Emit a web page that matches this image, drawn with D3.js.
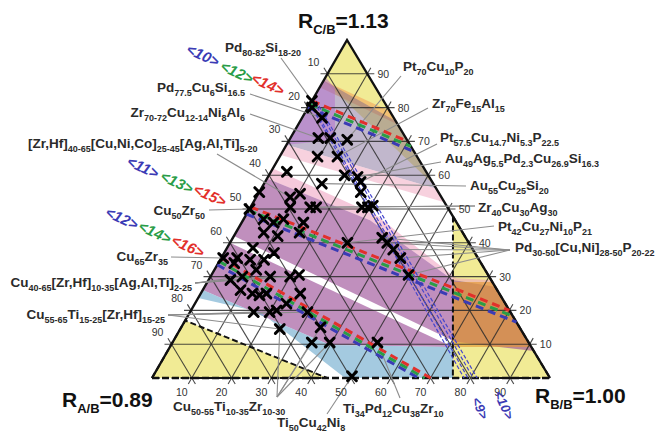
<!DOCTYPE html>
<html>
<head>
<meta charset="utf-8">
<script src="https://cdn.jsdelivr.net/npm/d3@7"></script>
<style>
  body { margin: 0; background: #fff; }
  svg { display: block; font-family: "Liberation Sans", Arial, sans-serif; }
</style>
</head>
<body>
<svg id="chart" width="656" height="432"></svg>
<script>
// compositions are [A, B, C] in percent (A bottom-left, B bottom-right, C top)
const TICKS = [10, 20, 30, 40, 50, 60, 70, 80, 90];

const points = [
  [18, 0, 82], [19, 1, 80], [18, 5, 77], [22, 7, 71], [19, 10, 71], [15, 14.5, 70.5],
  [25, 9.5, 65.5], [20, 14.5, 65.5], [35, 4, 61], [21, 19, 60], [28, 14.5, 57.5],
  [18, 24, 58], [19.5, 25.5, 55], [21.5, 28, 50.5], [20, 29.5, 50.5], [21, 37.5, 41.5],
  [20.5, 39.5, 40], [20, 42, 38], [19.5, 45, 35.5], [20, 49.5, 30.5], [30.5, 29.5, 40],
  [45, 0, 55], [38, 8.5, 53.5], [35, 10.5, 54.5], [39.5, 10, 50.5], [34.5, 15, 50.5],
  [33, 16.5, 50.5], [48, 5, 47], [46, 8, 46], [43, 10, 47], [38.5, 15.5, 46], [50, 7, 43],
  [47, 11, 42], [41, 16, 43], [55, 6.5, 38.5], [50.5, 12.5, 37], [57.5, 7.5, 35],
  [54, 11, 35], [60.5, 4, 35.5], [62, 8, 30], [57.5, 10.5, 32], [64, 0.5, 35.5],
  [55, 15, 30], [50, 20, 30], [62, 4, 34], [65.5, 5.5, 29], [47.5, 22, 30.5],
  [64.5, 9.5, 26], [60.5, 15, 24.5], [55, 23, 22], [50, 25, 25], [64.5, 16, 19.5],
  [60.5, 20, 19.5], [51, 29.5, 19.5], [60.5, 25, 14.5], [50, 35, 15], [54.5, 35, 10.5],
  [50, 39.5, 10.5], [38, 51.5, 10.5], [49.5, 50, 0.5], [62, 13, 25], [58.5, 16.5, 25],
  [58.5, 21.5, 20], [18, 22.5, 59.5], [18.5, 30.5, 51], [50, 0, 50]
];

// shaded regions
const yellowTop = [[0, 0, 100], [12, 0, 88], [0, 43, 57]];
const yellowLeft = [[100, 0, 0], [83, 0, 17], [56, 44, 0]];
const yellowRight = [[0, 52.2, 47.8], [24.4, 75.6, 0], [0, 100, 0]];
const orangeStreak = [[12, 0, 88], [0, 21, 79], [0, 25, 75], [14, 0, 86]];
const upperBand = [[12, 0, 88], [0, 24, 76], [0, 44, 56], [31, 0, 69]];
const violetLeft = [[11, 0, 89], [10.3, 3.9, 85.8], [18.1, 11.5, 70.4], [31, 0, 69]];
const pinkUpper = [[31, 0, 69], [0, 44, 56], [0, 48, 52], [34, 0, 66]];
const pinkMid = [[38, 0, 62], [19, 33, 48], [8.5, 62, 29.5], [0, 71, 29], [0, 73, 27], [9.6, 61.4, 29], [21.4, 31.9, 46.7], [41, 0, 59]];
const midBand = [[41, 0, 59], [21.4, 31.9, 46.7], [9.6, 61.4, 29], [0, 73, 27], [0, 92, 8], [18.4, 70.9, 10.7], [58, 0, 42]];
const lowerBand = [[60, 0, 40], [19.7, 71.1, 9.2], [50.3, 39.9, 9.8], [74, 0, 26]];
const blueBand = [[74, 0, 26], [50.3, 39.9, 9.8], [19.7, 71.1, 9.2], [24.4, 75.6, 0], [51.5, 48.5, 0], [62.9, 17.6, 19.5], [76.3, 0, 23.7]];
const orangeRight = [[9.9, 61.7, 28.4], [0, 71.6, 28.4], [0, 90.8, 9.2], [19.7, 71.1, 9.2]];

// <n> guide lines
const ridgeBlue = [[[20, 0, 80], [0, 33, 67]], [[51.5, 0, 48.5], [0, 83.5, 16.5]], [[66.5, 0, 33.5], [33, 67, 0]]];
const ridgeGreen = [[[19, 0, 81], [0, 31.5, 68.5]], [[50.4, 0, 49.6], [0, 81.7, 18.3]], [[65.5, 0, 34.5], [31.5, 68.5, 0]]];
const ridgeRed = [[[18, 0, 82], [0, 30, 70]], [[49.4, 0, 50.6], [0, 80, 20]], [[64.5, 0, 35.5], [30, 70, 0]]];
const thinBlue = [
  [[18.9, 0, 81.1], [21.6, 78.4, 0]], [[18.5, 0.1, 81.4], [20.6, 79.4, 0]],
  [[17.6, 0.7, 81.7], [19.3, 80.7, 0]], [[17, 1, 82], [18.3, 81.7, 0]]
];

const bracketTexts = [["<10>", "<12>", "<14>"], ["<11>", "<13>", "<15>"], ["<12>", "<14>", "<16>"]];
const bracketBottom = ["<9>", "<10>"];

const compLabels = [
  "Pd_{80-82}Si_{18-20}", "Pd_{77.5}Cu_{6}Si_{16.5}", "Zr_{70-72}Cu_{12-14}Ni_{8}Al_{6}",
  "[Zr,Hf]_{40-65}[Cu,Ni,Co]_{25-45}[Ag,Al,Ti]_{5-20}", "Cu_{50}Zr_{50}", "Cu_{65}Zr_{35}",
  "Cu_{40-65}[Zr,Hf]_{10-35}[Ag,Al,Ti]_{2-25}", "Cu_{55-65}Ti_{15-25}[Zr,Hf]_{15-25}",
  "Cu_{50-55}Ti_{10-35}Zr_{10-30}", "Ti_{50}Cu_{42}Ni_{8}", "Ti_{34}Pd_{12}Cu_{38}Zr_{10}",
  "Pt_{70}Cu_{10}P_{20}", "Zr_{70}Fe_{15}Al_{15}", "Pt_{57.5}Cu_{14.7}Ni_{5.3}P_{22.5}",
  "Au_{49}Ag_{5.5}Pd_{2.3}Cu_{26.9}Si_{16.3}", "Au_{55}Cu_{25}Si_{20}", "Zr_{40}Cu_{30}Ag_{30}",
  "Pt_{42}Cu_{27}Ni_{10}P_{21}", "Pd_{30-50}[Cu,Ni]_{28-50}P_{20-22}"
];
const compTargets = [
  [[18, 0, 82]], [[18, 5, 77]], [[22, 7, 71]], [[38, 8.5, 53.5]], [[50, 0, 50]], [[64, 0.5, 35.5]],
  [[65.5, 5.5, 29], [62, 8, 30], [55, 15, 30], [50, 20, 30]],
  [[64.5, 16, 19.5], [60.5, 20, 19.5], [51, 29.5, 19.5], [60.5, 25, 14.5]],
  [[60.5, 25, 14.5], [50, 35, 15], [54.5, 35, 10.5], [50, 39.5, 10.5]],
  [[49.5, 50, 0.5]], [[38, 51.5, 10.5]],
  [[15, 14.5, 70.5]], [[20, 14.5, 65.5]], [[18, 24, 58]], [[18, 22.5, 59.5]], [[28, 14.5, 57.5]],
  [[33, 16.5, 50.5], [34.5, 15, 50.5]], [[30.5, 29.5, 40]],
  [[21, 37.5, 41.5], [20.5, 39.5, 40], [20, 42, 38], [19.5, 45, 35.5], [20, 49.5, 30.5]]
];

const ratioLabels = ["R_{C/B}=1.13", "R_{A/B}=0.89", "R_{B/B}=1.00"];

// ---- layout ----
const LABEL_LAYOUT = [
  { x: 225, y: 52, a: "start", lx: 281, ly: 58 },
  { x: 157, y: 92, a: "start", lx: 250, ly: 94 },
  { x: 245, y: 117, a: "end", lx: 250, ly: 114 },
  { x: 28, y: 148, a: "start", lx: 217, ly: 154 },
  { x: 205, y: 215, a: "end", lx: 209, ly: 210 },
  { x: 168, y: 261, a: "end", lx: 171, ly: 257 },
  { x: 192, y: 287, a: "end", lx: 195, ly: 283 },
  { x: 165, y: 319, a: "end", lx: 168, ly: 315 },
  { x: 173, y: 411, a: "start", lx: 277, ly: 397 },
  { x: 277, y: 427, a: "start", lx: 327, ly: 414 },
  { x: 343, y: 413, a: "start", lx: 400, ly: 398 },
  { x: 403, y: 71, a: "start", lx: 401, ly: 76 },
  { x: 432, y: 108, a: "start", lx: 428, ly: 108 },
  { x: 440, y: 142, a: "start", lx: 437, ly: 144 },
  { x: 445, y: 163, a: "start", lx: 441, ly: 162 },
  { x: 470, y: 190, a: "start", lx: 466, ly: 186 },
  { x: 478, y: 212, a: "start", lx: 475, ly: 206 },
  { x: 498, y: 231, a: "start", lx: 494, ly: 226 },
  { x: 515, y: 252, a: "start", lx: 510, ly: 250 }
];
const RATIO_LAYOUT = [{ x: 298, y: 28 }, { x: 62, y: 407 }, { x: 535, y: 403 }];
const BRACKET_POS = [
  [[203, 55], [237, 72], [268, 84]],
  [[143, 167], [177, 182], [210, 195]],
  [[122, 218], [155, 232], [188, 246]]
];
const BRACKET_BOTTOM_POS = [[480, 408], [504, 405]];
const BRACKET_COLORS = ["#3b3bb5", "#2a9d48", "#e2302b"];

const svg = d3.select("#chart");
const x = d3.scaleLinear().domain([0, 100]).range([152, 550]);
const y = d3.scaleLinear().domain([0, 100]).range([378, 40]);
const APEX = 0.49;
const proj = ([a, b, c]) => [x(b + APEX * c), y(c)];
const line = d3.line();
const poly = (pts) => line(pts.map(proj)) + "Z";

const chem = (text, str, sub) => {
  const parts = str.split(/_\{([^}]*)\}/);
  let shifted = false;
  parts.forEach((p, i) => {
    if (!p) return;
    const isSub = i % 2 === 1;
    const t = text.append("tspan").text(p);
    if (isSub) t.attr("font-size", sub);
    if (isSub !== shifted) {
      t.attr("dy", isSub ? sub * 0.45 : -sub * 0.45);
      shifted = isSub;
    }
  });
};

// shaded regions
const AREAS = [
  [yellowTop, "#efe98a", 0.9],
  [yellowLeft, "#efe98a", 0.9],
  [yellowRight, "#efe98a", 0.9],
  [orangeStreak, "#f3a45c", 0.6],
  [upperBand, "#76608f", 0.45],
  [violetLeft, "#b46ccc", 0.5],
  [pinkUpper, "#f0a3bd", 0.5],
  [pinkMid, "#ee9cbd", 0.55],
  [midBand, "#9a4a94", 0.62],
  [lowerBand, "#9a4a94", 0.62],
  [orangeRight, "#e3962e", 0.62],
  [blueBand, "#7db3d3", 0.7]
];
svg.append("g").selectAll("path").data(AREAS).join("path")
  .attr("d", (d) => poly(d[0]))
  .attr("fill", (d) => d[1])
  .attr("fill-opacity", (d) => d[2]);

// grid lines, extended past the edges to form the ticks
const EXT = 7;
const extend = (seg) => {
  const [p, q] = seg.map(proj);
  const len = Math.hypot(q[0] - p[0], q[1] - p[1]);
  const ux = (q[0] - p[0]) / len, uy = (q[1] - p[1]) / len;
  return [[p[0] - ux * EXT, p[1] - uy * EXT], [q[0] + ux * EXT, q[1] + uy * EXT]];
};
const gridSegs = TICKS.flatMap((v) => [
  [[100 - v, 0, v], [0, 100 - v, v]],
  [[v, 0, 100 - v], [v, 100 - v, 0]],
  [[100 - v, v, 0], [0, v, 100 - v]]
]);
svg.append("g").selectAll("path").data(gridSegs).join("path")
  .attr("d", (d) => line(extend(d)))
  .attr("stroke", "#2a2a2a")
  .attr("stroke-opacity", 0.85)
  .attr("stroke-width", 1.1)
  .attr("fill", "none");

// dashed borders of the yellow corners
svg.append("g").selectAll("path").data([yellowLeft, yellowRight]).join("path")
  .attr("d", (d) => poly(d))
  .attr("fill", "none")
  .attr("stroke", "#111")
  .attr("stroke-width", 2)
  .attr("stroke-dasharray", "6,3");

// triangle outline
const A = [100, 0, 0], B = [0, 100, 0], C = [0, 0, 100];
svg.append("path").attr("d", line([A, C, B].map(proj)))
  .attr("fill", "none").attr("stroke", "#111").attr("stroke-width", 2.4)
  .attr("stroke-linejoin", "miter");
svg.append("path").attr("d", line([A, B].map(proj)))
  .attr("fill", "none").attr("stroke", "#111").attr("stroke-width", 2.4)
  .attr("stroke-dasharray", "7,3");

// connector lines
const connectors = compTargets.flatMap((ts, i) =>
  ts.map((t) => [[LABEL_LAYOUT[i].lx, LABEL_LAYOUT[i].ly], proj(t)]));
svg.append("g").selectAll("path").data(connectors).join("path")
  .attr("d", (d) => line(d))
  .attr("stroke", "#8c8c8c")
  .attr("stroke-width", 1.1)
  .attr("fill", "none");

// thin blue double lines
svg.append("g").selectAll("path").data(thinBlue).join("path")
  .attr("d", (d) => line(d.map(proj)))
  .attr("stroke", "#4646cc")
  .attr("stroke-width", 1.2)
  .attr("stroke-dasharray", "4,2")
  .attr("fill", "none");

// red / green / blue dashed guide lines
[[ridgeBlue, BRACKET_COLORS[0]], [ridgeGreen, BRACKET_COLORS[1]], [ridgeRed, BRACKET_COLORS[2]]]
  .forEach(([set, color]) => {
    svg.append("g").selectAll("path").data(set).join("path")
      .attr("d", (d) => line(d.map(proj)))
      .attr("stroke", color)
      .attr("stroke-width", 3)
      .attr("stroke-dasharray", "8,5")
      .attr("fill", "none");
  });

// markers
const R = 4.4;
svg.append("g").selectAll("path").data(points).join("path")
  .attr("transform", (d) => `translate(${proj(d)})`)
  .attr("d", `M${-R},${-R}L${R},${R}M${-R},${R}L${R},${-R}`)
  .attr("stroke", "#000")
  .attr("stroke-width", 3)
  .attr("stroke-linecap", "round");

// tick labels
const tickG = svg.append("g").attr("font-size", 10.5).attr("fill", "#333").attr("text-anchor", "middle");
TICKS.forEach((v) => {
  const l = proj([v, 0, 100 - v]);
  tickG.append("text").attr("x", l[0] - 14).attr("y", l[1] - 8).text(v);
  const r = proj([0, 100 - v, v]);
  tickG.append("text").attr("x", r[0] + 16).attr("y", r[1] + 4).text(v);
  const b = proj([100 - v, v, 0]);
  tickG.append("text").attr("x", b[0] - 10).attr("y", b[1] + 18).text(v);
});

// composition labels
compLabels.forEach((s, i) => {
  const L = LABEL_LAYOUT[i];
  const t = svg.append("text").attr("x", L.x).attr("y", L.y)
    .attr("text-anchor", L.a).attr("font-size", 13.5)
    .attr("font-weight", "bold").attr("fill", "#2a2a2a");
  chem(t, s, 9);
});

// ratio labels
ratioLabels.forEach((s, i) => {
  const t = svg.append("text").attr("x", RATIO_LAYOUT[i].x).attr("y", RATIO_LAYOUT[i].y)
    .attr("font-size", 21).attr("font-weight", "bold").attr("fill", "#111");
  chem(t, s, 13);
});

// bracket labels
bracketTexts.forEach((row, r) => {
  row.forEach((s, k) => {
    const [px, py] = BRACKET_POS[r][k];
    svg.append("text").attr("transform", `translate(${px},${py}) rotate(25)`)
      .attr("text-anchor", "middle").attr("dominant-baseline", "central")
      .attr("font-size", 15).attr("font-weight", "bold").attr("font-style", "italic")
      .attr("fill", BRACKET_COLORS[k]).text(s);
  });
});
bracketBottom.forEach((s, k) => {
  const [px, py] = BRACKET_BOTTOM_POS[k];
  svg.append("text").attr("transform", `translate(${px},${py}) rotate(65)`)
    .attr("text-anchor", "middle").attr("dominant-baseline", "central")
    .attr("font-size", 13).attr("font-weight", "bold").attr("font-style", "italic")
    .attr("fill", BRACKET_COLORS[0]).text(s);
});
</script>
</body>
</html>
